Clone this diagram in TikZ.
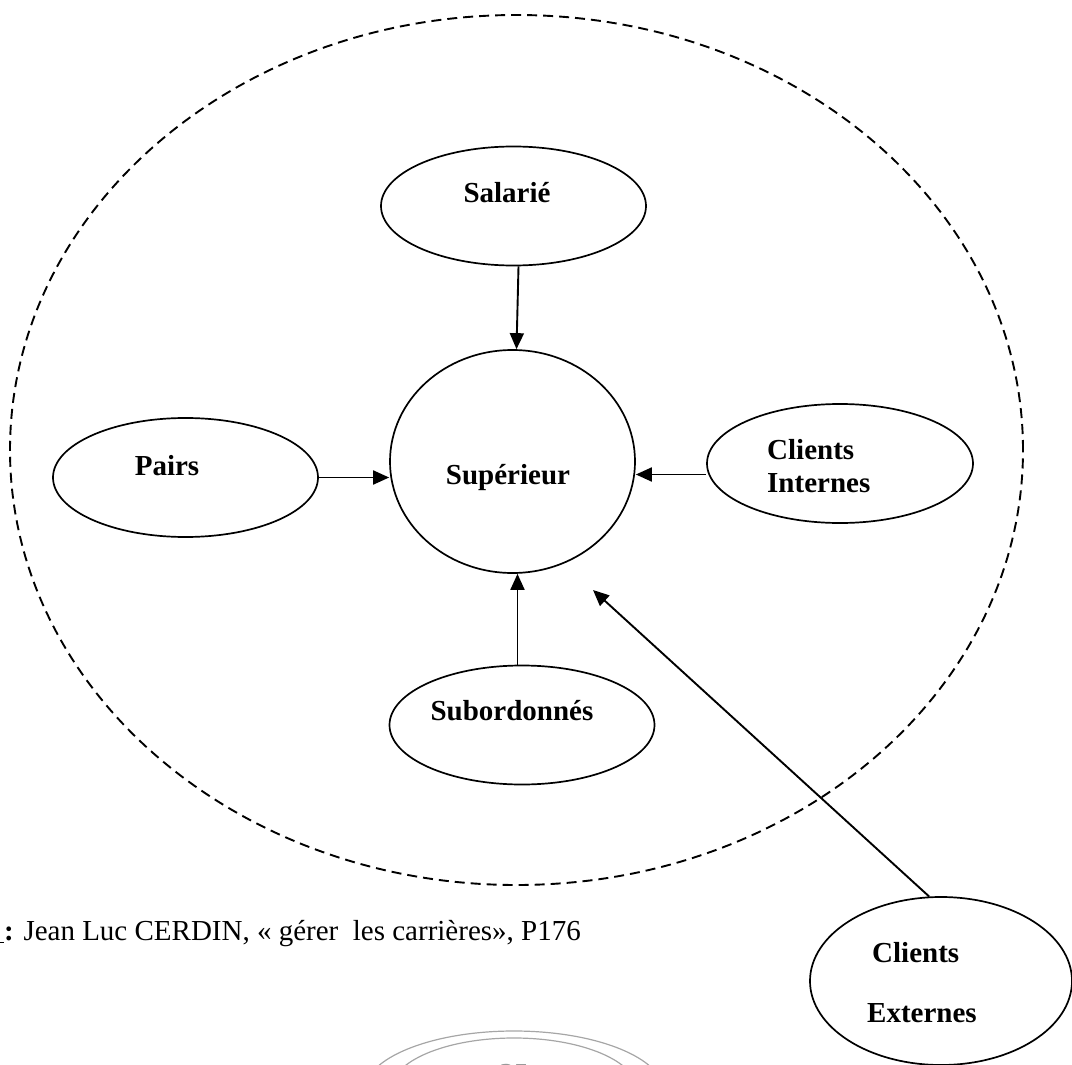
\documentclass[tikz,border=0pt]{standalone}
\usepackage{fontspec}
\setmainfont{Liberation Serif}
\usetikzlibrary{shapes.geometric,arrows.meta}
\begin{document}
\begin{tikzpicture}[x=1pt,y=-1pt,
  bub/.style={ellipse, draw, line width=1.7pt, inner sep=0pt, minimum width=265pt, minimum height=119pt},
  lbl/.style={font=\fontsize{29}{33}\selectfont\bfseries, inner sep=0pt, anchor=base},
  txt/.style={font=\fontsize{29}{33}\selectfont, inner sep=0pt},
  arr/.style={line width=1.9pt, -{Triangle[length=16pt,width=14pt]}},
  outerline/.style={ellipse, draw, line width=1.9pt, dash pattern=on 10pt off 6pt, inner sep=0pt}]
\useasboundingbox (0,0) rectangle (1072,1065);
\clip (0,0) rectangle (1072,1065);

% dashed boundary
\node[outerline, minimum width=1013pt, minimum height=870pt] (outer) at (516.5,450) {};

% nodes
\node[bub] (sal) at (513.5,206) {};
\node[lbl] (tsal) at (507,202) {Salarié};

\node[ellipse, draw, line width=1.7pt, inner sep=0pt, minimum width=245pt, minimum height=223pt] (sup) at (512.5,461.5) {};
\node[lbl] (tsup) at (508,484) {Supérieur};

\node[bub] (pairs) at (185.5,477.5) {};
\node[lbl] (tpairs) at (167,475) {Pairs};

\node[bub, minimum width=266pt] (ci) at (840,463.5) {};
\node[lbl, anchor=base west] (tci1) at (767,459) {Clients};
\node[lbl, anchor=base west] (tci2) at (767,492) {Internes};

\node[bub] (sub) at (522,725) {};
\node[lbl] (tsub) at (512,720) {Subordonnés};

\node[bub, minimum width=262pt, minimum height=168pt] (ext) at (941,981) {};
\node[lbl, anchor=base west] (tce1) at (872,962) {Clients};
\node[lbl, anchor=base west] (tce2) at (867,1022) {Externes};

\coordinate (tip) at (593,590);

% connectors
\draw[arr] ([xshift=5pt]sal.south) -- ([xshift=4pt]sup.north);
\draw[arr] (pairs.east) -- (pairs.east -| sup.west);
\draw[arr] ([yshift=-11pt]ci.west) -- ([yshift=-11pt]ci.west -| sup.east);
\draw[arr] ([xshift=-4.5pt]sub.north) -- ([xshift=-4.5pt]sub.north |- sup.south);
\draw[arr] (ext.98) -- (tip);

% source line
\node[txt, anchor=base east] (src0) at (4,940) {\textbf{\underline{Source\ }}};
\node[txt, anchor=base west] (src) at (4,940) {\textbf{:} Jean Luc CERDIN, «\ gérer\ \ les carrières», P176};

% page number decoration (cut at the bottom)
\node[ellipse, draw=gray!70, line width=1.2pt, inner sep=0pt, minimum width=300pt, minimum height=122pt] (pgo) at (514,1092) {};
\node[ellipse, draw=gray!70, line width=1.2pt, inner sep=0pt, minimum width=246pt, minimum height=104pt] (pgi) at (514,1090) {};
\node[lbl, text=gray!80] (pg) at (514,1083) {25};
\end{tikzpicture}
\end{document}
